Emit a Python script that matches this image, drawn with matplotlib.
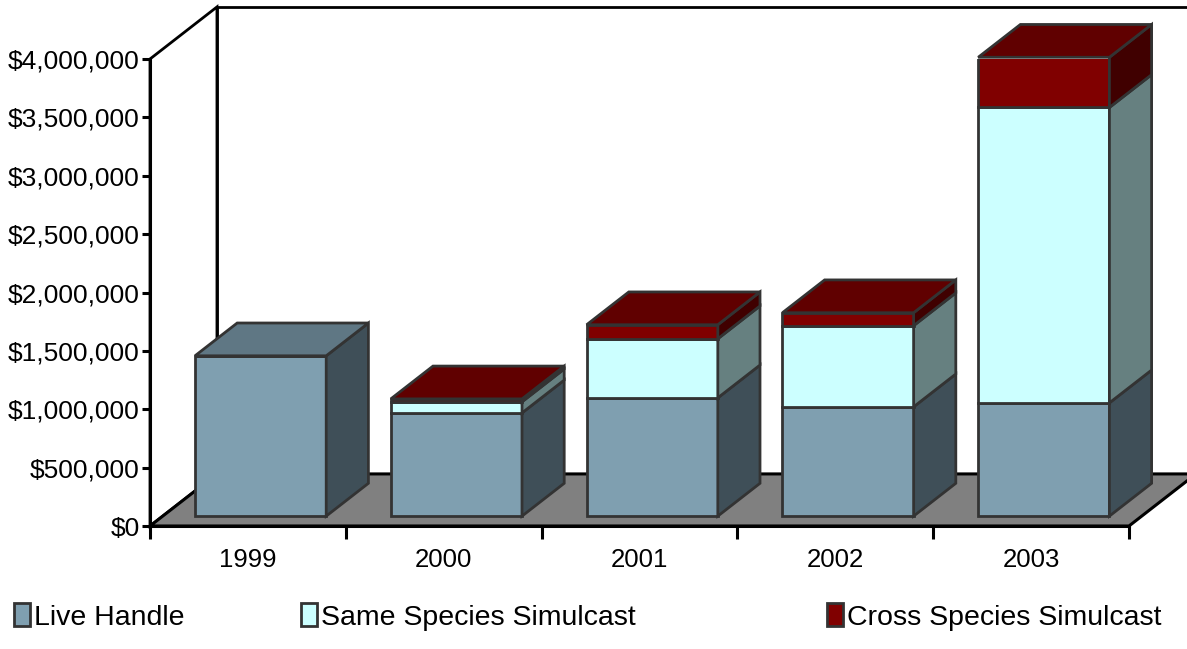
import matplotlib.pyplot as plt
from matplotlib.patches import Polygon, Patch
from matplotlib.ticker import FuncFormatter, FixedLocator
import numpy as np

plt.rcParams['font.family'] = ['Liberation Sans', 'DejaVu Sans']

years = ['1999', '2000', '2001', '2002', '2003']
live = [1373000, 884000, 1013000, 936000, 970000]
same = [0, 95000, 506000, 695000, 2530000]
cross = [0, 25000, 120000, 111000, 430000]

series_names = ['Live Handle', 'Same Species Simulcast', 'Cross Species Simulcast']
front_cols = ['#7f9fb0', '#ccffff', '#800000']
top_cols = ['#5f7784', '#99bfbf', '#600000']
side_cols = ['#3f4f58', '#668080', '#400000']

YMAX = 4000000
# full depth of the floor in data units (x in category units, y in dollars)
DX, DY = 0.342, 446000
BAR_W = 0.67
F0 = 0.19      # where the bar front sits inside the depth
FB = 0.63      # bar depth as fraction of full depth
EDGE = '#333333'
LW = 2.0

fig = plt.figure(figsize=(11.87, 6.49), dpi=100)
ax = fig.add_axes([150 / 1187, 123 / 649, 979 / 1187, 467 / 649])
ax.set_xlim(0, len(years))
ax.set_ylim(0, YMAX)

# walls and floor
ax.add_patch(Polygon([(0, 0), (DX, DY), (DX, YMAX + DY), (0, YMAX)], closed=True,
                     facecolor='white', edgecolor='black', lw=2, clip_on=False, zorder=0.5))
ax.add_patch(Polygon([(DX, DY), (len(years) + DX, DY), (len(years) + DX, YMAX + DY), (DX, YMAX + DY)],
                     closed=True, facecolor='white', edgecolor='black', lw=2, clip_on=False, zorder=0.4))
ax.add_patch(Polygon([(0, 0), (len(years), 0), (len(years) + DX, DY), (DX, DY)], closed=True,
                     facecolor='#808080', edgecolor='black', lw=2.2, clip_on=False, zorder=1))

ox, oy = F0 * DX, F0 * DY
bx, by = FB * DX, FB * DY
x = np.arange(len(years)) + 0.5 - BAR_W / 2 + ox

data = [np.array(live), np.array(same), np.array(cross)]
bottom = np.zeros(len(years))
for k, vals in enumerate(data):
    ax.bar(x, vals, bottom=bottom + oy, width=BAR_W, align='edge', color=front_cols[k],
           edgecolor=EDGE, lw=LW, zorder=3)
    for i in range(len(years)):
        if vals[i] <= 0:
            continue
        y0, y1 = bottom[i] + oy, bottom[i] + vals[i] + oy
        xr = x[i] + BAR_W
        ax.add_patch(Polygon([(xr, y0), (xr + bx, y0 + by), (xr + bx, y1 + by), (xr, y1)], closed=True,
                             facecolor=side_cols[k], edgecolor=EDGE, lw=LW, clip_on=False, zorder=3))
    bottom = bottom + vals

# top faces on the highest segment
for i in range(len(years)):
    k = max(j for j in range(3) if data[j][i] > 0)
    yt = bottom[i] + oy
    ax.add_patch(Polygon([(x[i], yt), (x[i] + BAR_W, yt), (x[i] + BAR_W + bx, yt + by), (x[i] + bx, yt + by)],
                         closed=True, facecolor=top_cols[k], edgecolor=EDGE, lw=LW, clip_on=False, zorder=3))

for s in ['top', 'right']:
    ax.spines[s].set_visible(False)
for s in ['left', 'bottom']:
    ax.spines[s].set_linewidth(2.2)
    ax.spines[s].set_zorder(2)

ax.set_yticks(np.arange(0, YMAX + 1, 500000))
ax.yaxis.set_major_formatter(FuncFormatter(lambda v, p: f'${v:,.0f}'))
ax.tick_params(axis='y', length=6, width=2.2, pad=1.5, labelsize=19)

ax.xaxis.set_major_locator(FixedLocator(np.arange(len(years) + 1)))
ax.xaxis.set_minor_locator(FixedLocator(np.arange(len(years)) + 0.5))
ax.set_xticklabels([])
ax.set_xticklabels(years, minor=True)
ax.tick_params(axis='x', which='major', length=9, width=2.2)
ax.tick_params(axis='x', which='minor', length=0, pad=16, labelsize=18.5)

leg_x = [14, 301, 827]
for k in range(3):
    h = Patch(facecolor=front_cols[k], edgecolor=EDGE, lw=LW)
    fig.legend([h], [series_names[k]], loc='center left', bbox_to_anchor=(leg_x[k] / 1187, 1 - 617 / 649),
               frameon=False, fontsize=20.5, borderpad=0, borderaxespad=0, handlelength=0.55,
               handleheight=0.85, handletextpad=0.15)

fig.savefig('out.png', dpi=100)
